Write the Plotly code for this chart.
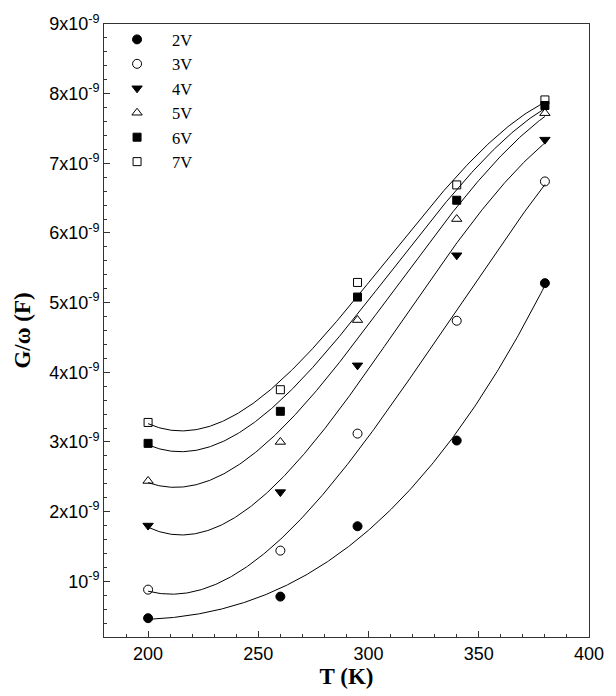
import numpy as np
import plotly.graph_objects as go

# Data (G/omega in units of 1e-9 F)
T = [200, 260, 295, 340, 380]
series_names = ["2V", "3V", "4V", "5V", "6V", "7V"]
v2 = [0.47, 0.78, 1.79, 3.02, 5.28]
v3 = [0.88, 1.44, 3.12, 4.74, 6.74]
v4 = [1.80, 2.28, 4.10, 5.68, 7.34]
v5 = [2.44, 3.00, 4.75, 6.20, 7.72]
v6 = [2.98, 3.44, 5.08, 6.47, 7.83]
v7 = [3.28, 3.75, 5.29, 6.69, 7.91]
series_values = [v2, v3, v4, v5, v6, v7]
y_tick_vals = [1, 2, 3, 4, 5, 6, 7, 8, 9]
y_tick_text = ["10<sup>-9</sup>", "2x10<sup>-9</sup>", "3x10<sup>-9</sup>", "4x10<sup>-9</sup>",
               "5x10<sup>-9</sup>", "6x10<sup>-9</sup>", "7x10<sup>-9</sup>", "8x10<sup>-9</sup>",
               "9x10<sup>-9</sup>"]
x_tick_vals = [200, 250, 300, 350, 400]
SCALE = 1e-9

symbols = ["circle", "circle-open", "triangle-down", "triangle-up-open", "square", "square-open"]
sizes = [9, 9, 9, 9, 8, 8]

fig = go.Figure()
xs = np.array(T, dtype=float)
xfine = np.linspace(200, 380, 300)
for name, vals in zip(series_names, series_values):
    coef = np.polyfit(xs, np.array(vals), 3)
    yfit = np.polyval(coef, xfine) * SCALE
    fig.add_trace(go.Scatter(x=xfine, y=yfit, mode="lines",
                             line=dict(color="black", width=1), showlegend=False,
                             hoverinfo="skip"))

for name, vals, sym, sz in zip(series_names, series_values, symbols, sizes):
    fig.add_trace(go.Scatter(x=T, y=[v * SCALE for v in vals], mode="markers", name=name,
                             marker=dict(symbol=sym, size=sz, color="black",
                                         line=dict(color="black", width=1))))

fig.update_layout(
    width=616, height=696,
    margin=dict(l=104, r=16, t=14, b=59),
    paper_bgcolor="white", plot_bgcolor="white",
    showlegend=True,
    legend=dict(x=-0.004, y=1.003, xanchor="left", yanchor="top",
                font=dict(family="Liberation Serif", size=16.5, color="black"),
                bgcolor="rgba(0,0,0,0)", itemwidth=60, tracegroupgap=0),
    font=dict(family="Liberation Sans", size=18, color="black"),
)

fig.update_xaxes(
    range=[180, 400], tickvals=x_tick_vals, ticks="inside", ticklen=6, tickwidth=1,
    tickcolor="#333", showline=True, linecolor="#333", linewidth=1, mirror=True,
    showgrid=False, zeroline=False,
    minor=dict(dtick=10, tick0=180, ticks="inside", ticklen=3, tickcolor="#333", showgrid=False),
    tickfont=dict(family="Liberation Sans", size=18),
    title=dict(text="<b>T (K)</b>", font=dict(family="Liberation Serif", size=23), standoff=4),
)
fig.update_yaxes(
    range=[0.2e-9, 9e-9], tickvals=[v * SCALE for v in y_tick_vals], ticktext=y_tick_text,
    ticks="inside", ticklen=6, tickwidth=1, tickcolor="#333",
    showline=True, linecolor="#333", linewidth=1, mirror=True,
    showgrid=False, zeroline=False,
    minor=dict(dtick=0.2e-9, tick0=0, ticks="inside", ticklen=3, tickcolor="#333", showgrid=False),
    tickfont=dict(family="Liberation Sans", size=18),
    title=dict(text="<b>G/ω (F)</b>", font=dict(family="Liberation Serif", size=23), standoff=12),
)

fig.write_html("out.html")
